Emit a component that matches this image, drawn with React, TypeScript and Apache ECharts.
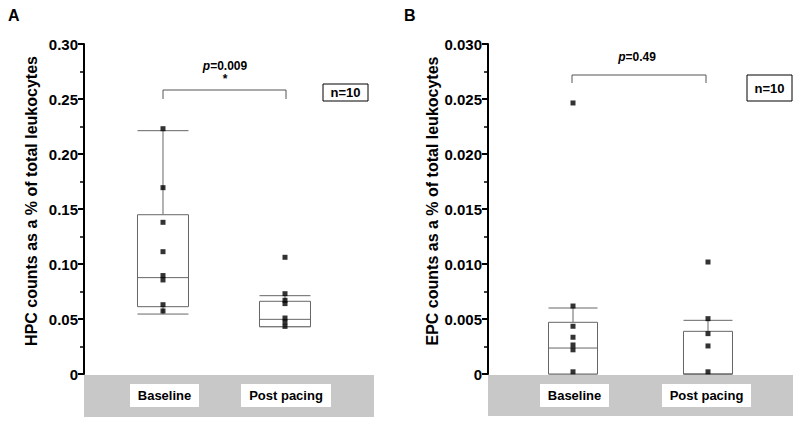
import { useEffect, useRef } from "react";
import * as echarts from "echarts";

// ---- data ----
const groups = ["Baseline", "Post pacing"];
const hpcBaseline = [0.223, 0.1694, 0.1379, 0.1112, 0.0895, 0.0855, 0.063, 0.0573];
const hpcPost = [0.1061, 0.073, 0.067, 0.064, 0.0509, 0.0473, 0.0433];
const epcBaseline = [0.02464, 0.00618, 0.00434, 0.00334, 0.00264, 0.0022, 0.0002];
const epcPost = [0.01018, 0.00503, 0.00367, 0.00255, 0.0002];
// box stats: [lower whisker, q1, median, q3, upper whisker]
const hpcBaselineBox = [0.0545, 0.0612, 0.0876, 0.1448, 0.2212];
const hpcPostBox = [0.043, 0.043, 0.0497, 0.0661, 0.0712];
const epcBaselineBox = [0, 0, 0.00236, 0.0047, 0.006];
const epcPostBox = [0, 0, 0, 0.00388, 0.00488];
const hpcTicks = { max: 0.3, interval: 0.05, digits: 2 };
const epcTicks = { max: 0.03, interval: 0.005, digits: 3 };
const yTitles = ["HPC counts as a % of total leukocytes", "EPC counts as a % of total leukocytes"];
const pValueA = "0.009";
const pValueB = "0.49";
const nLabel = "n=10";

// ---- layout ----
const FONT = "'Liberation Sans', Arial, sans-serif";
const posA = [0.2724, 0.6931];
const posB = [0.2787, 0.7213];
const BOX_STROKE = "#666";

function boxRender(boxW: number) {
  return (params: any, api: any) => {
    const x = api.value(0);
    const v = [1, 2, 3, 4, 5].map((i) => api.value(i));
    const p = v.map((val) => api.coord([x, val]));
    const cx = p[0][0];
    const h = boxW / 2;
    const st = { stroke: BOX_STROKE, lineWidth: 1, fill: null };
    return {
      type: "group",
      children: [
        { type: "line", shape: { x1: cx, y1: p[4][1], x2: cx, y2: p[3][1] }, style: st },
        { type: "line", shape: { x1: cx - h, y1: p[4][1], x2: cx + h, y2: p[4][1] }, style: st },
        { type: "line", shape: { x1: cx, y1: p[1][1], x2: cx, y2: p[0][1] }, style: st },
        { type: "line", shape: { x1: cx - h, y1: p[0][1], x2: cx + h, y2: p[0][1] }, style: st },
        {
          type: "rect",
          shape: { x: cx - h, y: p[3][1], width: boxW, height: p[1][1] - p[3][1] },
          style: { fill: "#fff", stroke: BOX_STROKE, lineWidth: 1 },
        },
        { type: "line", shape: { x1: cx - h, y1: p[2][1], x2: cx + h, y2: p[2][1] }, style: st },
      ],
    };
  };
}

function yAxisFor(t: { max: number; interval: number; digits: number }, idx: number) {
  return {
    type: "value",
    gridIndex: idx,
    min: 0,
    max: t.max,
    interval: t.interval,
    axisLine: { show: true, lineStyle: { color: "#000", width: 2 } },
    axisTick: { show: true, length: 6, lineStyle: { color: "#000", width: 2 } },
    minorTick: { show: true, splitNumber: 2, length: 4, lineStyle: { color: "#000", width: 1.5 } },
    splitLine: { show: false },
    axisLabel: {
      fontFamily: FONT,
      fontWeight: "bold",
      fontSize: 15,
      color: "#000",
      margin: 6,
      formatter: (v: number) => (v === 0 ? "0" : v.toFixed(t.digits)),
    },
  };
}

function yTitle(x: number, y: number, text: string) {
  return {
    type: "text",
    x,
    y,
    rotation: Math.PI / 2,
    style: { text, fontFamily: FONT, fontWeight: "bold", fontSize: 16, fill: "#000", align: "center", verticalAlign: "middle" },
  };
}

function labelBox(x: number, w: number, text: string) {
  return [
    { type: "rect", shape: { x, y: 384, width: w, height: 23 }, style: { fill: "#fff" }, z: 5 },
    {
      type: "text",
      x: x + w / 2,
      y: 395.5,
      style: { text, fontFamily: FONT, fontWeight: "bold", fontSize: 13, fill: "#000", align: "center", verticalAlign: "middle" },
      z: 6,
    },
  ];
}

function pText(x: number, y: number, val: string) {
  return {
    type: "text",
    x,
    y,
    style: {
      text: `{i|p}{b|=${val}}`,
      align: "center",
      verticalAlign: "middle",
      rich: {
        i: { fontFamily: FONT, fontWeight: "bold", fontStyle: "italic", fontSize: 12, fill: "#000" },
        b: { fontFamily: FONT, fontWeight: "bold", fontSize: 12, fill: "#000" },
      },
    },
  };
}

function nBox(x: number, y: number, w: number, h: number) {
  return [
    { type: "rect", shape: { x, y, width: w, height: h }, style: { fill: "#fff", stroke: "#000", lineWidth: 1 } },
    {
      type: "text",
      x: x + w / 2,
      y: y + h / 2,
      style: { text: nLabel, fontFamily: FONT, fontWeight: "bold", fontSize: 13, fill: "#000", align: "center", verticalAlign: "middle" },
    },
  ];
}

export default function App() {
  const ref = useRef<HTMLDivElement>(null);
  useEffect(() => {
    if (!ref.current) return;
    const chart = echarts.init(ref.current, null, { renderer: "svg" });
    const scatter = (data: number[], pos: number, idx: number) => ({
      type: "scatter",
      xAxisIndex: idx,
      yAxisIndex: idx,
      symbol: "rect",
      symbolSize: 5,
      itemStyle: { color: "#000" },
      data: data.map((v) => [pos, v]),
      z: 10,
    });
    const boxes = (stats: number[][], pos: number[], idx: number, w: number) => ({
      type: "custom",
      xAxisIndex: idx,
      yAxisIndex: idx,
      renderItem: boxRender(w),
      data: stats.map((s, i) => [pos[i], ...s]),
      clip: false,
      z: 3,
    });
    chart.setOption({
      animation: false,
      backgroundColor: "#fff",
      grid: [
        { left: 84, top: 44, width: 290, height: 330 },
        { left: 488, top: 44, width: 305, height: 330 },
      ],
      xAxis: [
        { type: "value", gridIndex: 0, min: 0, max: 1, show: false },
        { type: "value", gridIndex: 1, min: 0, max: 1, show: false },
      ],
      yAxis: [yAxisFor(hpcTicks, 0), yAxisFor(epcTicks, 1)],
      series: [
        boxes([hpcBaselineBox, hpcPostBox], posA, 0, 51),
        boxes([epcBaselineBox, epcPostBox], posB, 1, 49),
        scatter(hpcBaseline, posA[0], 0),
        scatter(hpcPost, posA[1], 0),
        scatter(epcBaseline, posB[0], 1),
        scatter(epcPost, posB[1], 1),
      ],
      graphic: [
        { type: "rect", shape: { x: 84, y: 375, width: 290, height: 42 }, style: { fill: "#c8c8c8" }, z: 1 },
        { type: "rect", shape: { x: 488, y: 375, width: 305, height: 41 }, style: { fill: "#c8c8c8" }, z: 1 },
        ...labelBox(130, 69, groups[0]),
        ...labelBox(241, 90, groups[1]),
        ...labelBox(540, 69, groups[0]),
        ...labelBox(662, 89, groups[1]),
        yTitle(31, 201, yTitles[0]),
        yTitle(432, 201, yTitles[1]),
        {
          type: "text",
          x: 8,
          y: 7,
          style: { text: "A", fontFamily: FONT, fontWeight: "bold", fontSize: 16, fill: "#000" },
        },
        {
          type: "text",
          x: 404,
          y: 7,
          style: { text: "B", fontFamily: FONT, fontWeight: "bold", fontSize: 16, fill: "#000" },
        },
        {
          type: "polyline",
          shape: { points: [[163, 99], [163, 90], [286, 90], [286, 99]] },
          style: { stroke: "#555", lineWidth: 1, fill: null },
        },
        {
          type: "polyline",
          shape: { points: [[572, 83], [572, 75], [706, 75], [706, 83]] },
          style: { stroke: "#555", lineWidth: 1, fill: null },
        },
        pText(225, 66, pValueA),
        {
          type: "text",
          x: 225,
          y: 79,
          style: { text: "*", fontFamily: FONT, fontWeight: "bold", fontSize: 12, fill: "#000", align: "center", verticalAlign: "middle" },
        },
        pText(637, 57, pValueB),
        ...nBox(323, 84, 45, 17),
        ...nBox(747, 75, 45, 26),
      ],
    });
    return () => chart.dispose();
  }, []);
  return <div ref={ref} style={{ position: "fixed", left: 0, top: 0, width: 800, height: 424 }} />;
}
